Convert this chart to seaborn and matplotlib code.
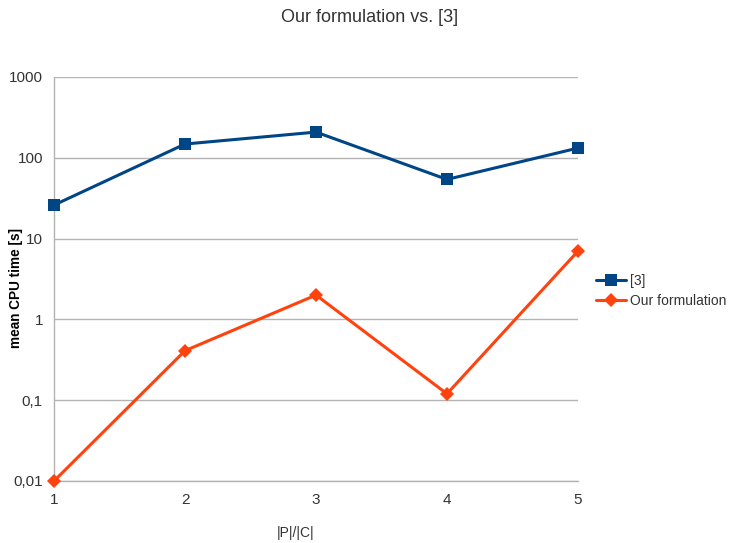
import matplotlib
matplotlib.use("Agg")
import matplotlib.pyplot as plt
import seaborn as sns
import pandas as pd
from matplotlib.ticker import FixedLocator, FuncFormatter, NullLocator

sns.set_style("white")
plt.rcParams["font.family"] = ["Liberation Sans", "DejaVu Sans"]

ratio = [1, 2, 3, 4, 5]
ref3 = [26, 148, 208, 54, 132]
ours = [0.01, 0.41, 2.0, 0.12, 7.0]
series_names = ["[3]", "Our formulation"]
y_ticks = [0.01, 0.1, 1, 10, 100, 1000]

df = pd.DataFrame({
    "x": ratio * 2,
    "y": ref3 + ours,
    "series": [series_names[0]] * len(ratio) + [series_names[1]] * len(ratio),
})

fig = plt.figure(figsize=(7.39, 5.43), dpi=100)
ax = fig.add_axes([0.0731, 0.1142, 0.7090, 0.7440])

palette = {series_names[0]: "#004586", series_names[1]: "#ff420e"}
markers = {series_names[0]: "s", series_names[1]: "D"}
sns.lineplot(data=df, x="x", y="y", hue="series", style="series",
             palette=palette, markers=markers, dashes=False,
             linewidth=2.2, markersize=8, markeredgewidth=0, ax=ax,
             zorder=3, clip_on=False)
# diamond markers a bit smaller than the squares
for line in ax.lines:
    if line.get_marker() == "D":
        line.set_markersize(7)

ax.set_yscale("log")
ax.set_ylim(0.01, 1000)
ax.set_xlim(1, 5)
ax.yaxis.set_major_locator(FixedLocator(y_ticks))
ax.yaxis.set_minor_locator(NullLocator())

def fmt(v, pos):
    return ("%g" % v).replace(".", ",")
ax.yaxis.set_major_formatter(FuncFormatter(fmt))
ax.set_xticks(ratio)

ax.grid(axis="y", color="#b3b3b3", linewidth=1)
ax.grid(axis="x", visible=False)
for s in ["top", "right"]:
    ax.spines[s].set_visible(False)
for s in ["left", "bottom"]:
    ax.spines[s].set_color("#b3b3b3")
    ax.spines[s].set_linewidth(1)

ax.tick_params(axis="x", direction="out", length=5, color="#b3b3b3",
               labelsize=11, labelcolor="#333333", pad=4)
ax.tick_params(axis="y", direction="out", length=6, color="#b3b3b3",
               labelsize=11, labelcolor="#333333", pad=2)

ax.set_xlabel("")
ax.set_ylabel("")
fig.text(296 / 739, 1 - 533 / 543, "|P|/|C|", fontsize=10, color="#333333",
         ha="center", va="center")
fig.text(16 / 739, 1 - 288 / 543, "mean CPU time [s]", fontsize=9.8,
         fontweight="bold", color="#000000", rotation=90,
         ha="center", va="center")
fig.text(370 / 739, 1 - 17 / 543, "Our formulation vs. [3]", fontsize=13,
         color="#333333", ha="center", va="center")

leg = ax.legend(loc="center left", bbox_to_anchor=(1.01, 0.47),
                frameon=False, fontsize=10, handlelength=2.2,
                handletextpad=0.3, labelspacing=0.4)
for t in leg.get_texts():
    t.set_color("#333333")

fig.savefig("out.png", dpi=100)
